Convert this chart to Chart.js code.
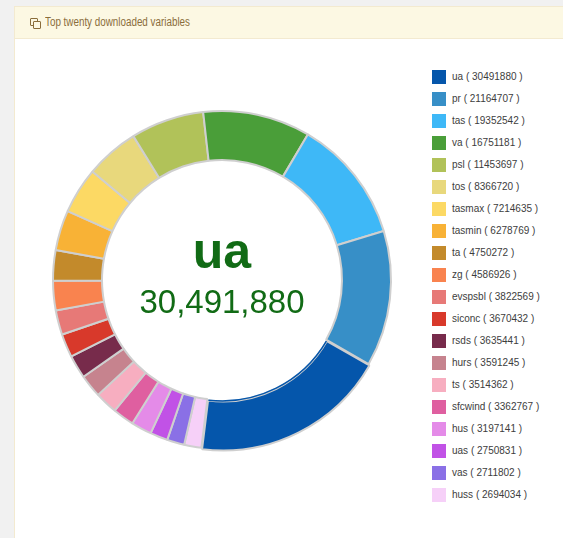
<!DOCTYPE html>
<html>
<head>
<meta charset="utf-8">
<title>Top twenty downloaded variables</title>
<script src="https://cdn.jsdelivr.net/npm/chart.js@4.4.1/dist/chart.umd.min.js"></script>
<style>
  body {
    margin: 0;
    width: 563px;
    height: 538px;
    overflow: hidden;
    background: #f1f1f1;
    font-family: "Liberation Sans", Arial, Helvetica, sans-serif;
  }
  .panel {
    position: absolute;
    left: 14px;
    top: 6px;
    width: 600px;
    height: 600px;
    background: #fff;
    border: 1px solid #f3ead0;
  }
  .panel-heading {
    height: 31px;
    background: #fcf8e3;
    border-bottom: 1px solid #f3ead0;
    color: #8a6d3b;
    font-size: 12px;
    line-height: 31px;
    padding-left: 30px;
    position: relative;
  }
  .panel-heading .title {
    display: inline-block;
    transform: scaleX(0.82);
    transform-origin: left center;
  }
  /* small "clone" icon in front of the title */
  .icon { position: absolute; left: 15px; top: 11px; width: 11px; height: 11px; }
  .icon span { position: absolute; width: 6px; height: 6px; border: 1.3px solid #8a6d3b; border-radius: 1px; background: #fcf8e3; }
  .icon .back { left: 0; top: 0; }
  .icon .front { left: 3px; top: 3px; }
  #ring {
    position: absolute;
    left: 49px;
    top: 107px;
    width: 346px;
    height: 346px;
  }
  #legend {
    position: absolute;
    left: 432px;
    top: 70px;
    margin: 0;
    padding: 0;
    list-style: none;
  }
  #legend li {
    height: 22px;
    font-size: 10px;
    line-height: 14px;
    color: #3d3d3d;
    white-space: nowrap;
  }
  #legend i {
    display: inline-block;
    width: 14px;
    height: 14px;
    vertical-align: top;
    margin-right: 6px;
  }
</style>
</head>
<body>
<div class="panel">
  <div class="panel-heading"><div class="icon"><span class="back"></span><span class="front"></span></div><span class="title">Top twenty downloaded variables</span></div>
</div>
<div id="ring"><canvas id="chart"></canvas></div>
<ul id="legend"></ul>

<script>
// Variables and their download counts
const names = ["ua", "pr", "tas", "va", "psl", "tos", "tasmax", "tasmin", "ta", "zg",
  "evspsbl", "siconc", "rsds", "hurs", "ts", "sfcwind", "hus", "uas", "vas", "huss"];
const downloads = [30491880, 21164707, 19352542, 16751181, 11453697, 8366720, 7214635, 6278769, 4750272, 4586926,
  3822569, 3670432, 3635441, 3591245, 3514362, 3362767, 3197141, 2750831, 2711802, 2694034];
const colours = ["#0556ab", "#378fc7", "#3eb8f7", "#4a9e39", "#b1c259", "#e8d87c", "#fcd964", "#f8b236", "#c38a2b", "#f9834f",
  "#e77977", "#d8392b", "#772b4b", "#c6838e", "#f7aec0", "#df5fa0", "#e48be8", "#c152e6", "#8a70e6", "#f6d0f8"];

// the highlighted variable, pulled out of the ring and written in the middle
const featured = 0;

// the ring runs counter-clockwise from ua, so Chart.js gets the lists reversed
const ringNames = names.slice().reverse();
const ringValues = downloads.slice().reverse();
const ringColours = colours.slice().reverse();
const ringOffsets = names.map((n, i) => (i === featured ? 6 : 0)).reverse();
const ringFeatured = names.length - 1 - featured;

// Legend list
const legend = document.getElementById("legend");
names.forEach((name, i) => {
  const li = document.createElement("li");
  li.innerHTML = `<i style="background:${colours[i]}"></i>${name} ( ${downloads[i]} )`;
  legend.appendChild(li);
});

// Thin outline left on the inner edge where the pulled-out slice sat,
// then name and count in the hole of the doughnut
const centreLabel = {
  id: "centreLabel",
  afterDraw(chart) {
    const { ctx, chartArea } = chart;
    const cx = (chartArea.left + chartArea.right) / 2;
    const cy = (chartArea.top + chartArea.bottom) / 2;
    const arc = chart.getDatasetMeta(0).data[ringFeatured];
    const { startAngle, endAngle, innerRadius } = arc.getProps(["startAngle", "endAngle", "innerRadius"], true);

    ctx.save();
    ctx.strokeStyle = ringColours[ringFeatured];
    ctx.lineWidth = 1.5;
    ctx.beginPath();
    ctx.arc(cx, cy, innerRadius + 1, startAngle + 0.01, endAngle - 0.01);
    ctx.stroke();

    ctx.fillStyle = "#116b15";
    ctx.textAlign = "center";
    ctx.textBaseline = "alphabetic";
    ctx.font = 'bold 50px "Liberation Sans", Arial, sans-serif';
    ctx.fillText(names[featured], cx, cy - 12);
    ctx.font = '33px "Liberation Sans", Arial, sans-serif';
    ctx.fillText(downloads[featured].toLocaleString("en-US"), cx, cy + 33);
    ctx.restore();
  },
};

new Chart(document.getElementById("chart"), {
  type: "doughnut",
  data: {
    labels: ringNames,
    datasets: [
      {
        data: ringValues,
        backgroundColor: ringColours,
        borderColor: "#cfcfcf",
        borderWidth: 2,
        offset: ringOffsets,
        hoverOffset: 0,
      },
    ],
  },
  options: {
    responsive: true,
    maintainAspectRatio: false,
    animation: false,
    events: [],
    rotation: 187,
    cutout: "71%",
    plugins: {
      legend: { display: false },
      tooltip: { enabled: false },
    },
  },
  plugins: [centreLabel],
});
</script>
</body>
</html>
